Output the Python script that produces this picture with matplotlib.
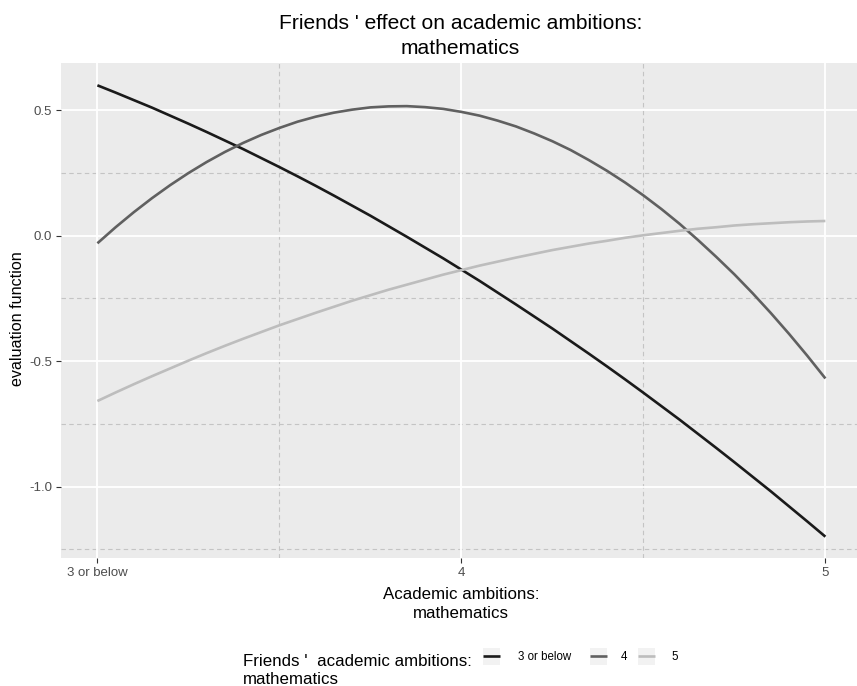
import matplotlib
matplotlib.use("Agg")
import matplotlib.pyplot as plt
from matplotlib.lines import Line2D
from matplotlib.patches import Rectangle

plt.rcParams['font.family'] = ['Liberation Sans', 'DejaVu Sans']

# ego's ambition level (x) and the evaluation function per friends' level
x_vals = [3.00, 3.05, 3.10, 3.15, 3.20, 3.25, 3.30, 3.35, 3.40, 3.45, 3.50,
          3.55, 3.60, 3.65, 3.70, 3.75, 3.80, 3.85, 3.90, 3.95, 4.00,
          4.05, 4.10, 4.15, 4.20, 4.25, 4.30, 4.35, 4.40, 4.45, 4.50,
          4.55, 4.60, 4.65, 4.70, 4.75, 4.80, 4.85, 4.90, 4.95, 5.00]
eval_3_or_below = [0.600, 0.571, 0.541, 0.511, 0.479, 0.447, 0.414, 0.380, 0.346, 0.310, 0.274,
                   0.237, 0.199, 0.160, 0.120, 0.080, 0.038, -0.004, -0.047, -0.090, -0.135,
                   -0.180, -0.227, -0.274, -0.322, -0.370, -0.420, -0.470, -0.521, -0.573, -0.626,
                   -0.680, -0.734, -0.790, -0.846, -0.903, -0.961, -1.019, -1.079, -1.139, -1.200]
eval_4 = [-0.030, 0.034, 0.094, 0.150, 0.202, 0.250, 0.294, 0.334, 0.370, 0.402, 0.430,
          0.455, 0.475, 0.491, 0.503, 0.512, 0.516, 0.517, 0.513, 0.506, 0.494,
          0.479, 0.459, 0.436, 0.408, 0.377, 0.342, 0.302, 0.259, 0.212, 0.161,
          0.106, 0.047, -0.017, -0.084, -0.154, -0.229, -0.308, -0.391, -0.478, -0.569]
eval_5 = [-0.659, -0.625, -0.592, -0.560, -0.529, -0.498, -0.468, -0.439, -0.411, -0.384, -0.357,
          -0.332, -0.307, -0.283, -0.259, -0.237, -0.215, -0.195, -0.175, -0.155, -0.137,
          -0.119, -0.103, -0.087, -0.072, -0.057, -0.044, -0.031, -0.020, -0.008, 0.002,
          0.011, 0.020, 0.028, 0.034, 0.041, 0.046, 0.050, 0.054, 0.057, 0.059]

series_labels = ['3 or below', '4', '5']
series_values = [eval_3_or_below, eval_4, eval_5]
series_colors = ['#1a1a1a', '#606060', '#bdbdbd']

x_ticks = [3, 4, 5]
x_tick_labels = ['3 or below', '4', '5']
y_ticks = [-1.0, -0.5, 0.0, 0.5]
y_tick_labels = ['-1.0', '-0.5', '0.0', '0.5']
x_minor = [3.5, 4.5]
y_minor = [-1.25, -0.75, -0.25, 0.25]

W, H = 857, 686
fig = plt.figure(figsize=(W / 100, H / 100), dpi=100)
fig.patch.set_facecolor('white')


def fx(px):
    return px / W


def fy(py):
    return 1 - py / H


left_px, right_px, top_px, bottom_px = 61, 857, 63, 558
ax = fig.add_axes([fx(left_px), fy(bottom_px),
                   (right_px - left_px) / W, (bottom_px - top_px) / H])
ax.set_facecolor('#ebebeb')
for s in ax.spines.values():
    s.set_visible(False)

for xm in x_minor:
    ax.axvline(xm, color='#c4c4c4', lw=0.8, dashes=(4, 3), zorder=1)
for ym in y_minor:
    ax.axhline(ym, color='#c4c4c4', lw=0.8, dashes=(4, 3), zorder=1)
for xt in x_ticks:
    ax.axvline(xt, color='white', lw=1.3, zorder=1.5)
for yt in y_ticks:
    ax.axhline(yt, color='white', lw=1.3, zorder=1.5)

for lab, vals, col in zip(series_labels, series_values, series_colors):
    ax.plot(x_vals, vals, color=col, lw=1.9, solid_capstyle='butt',
            solid_joinstyle='round', zorder=3, label=lab)

ax.set_xlim(2.9, 2.9 + (right_px - left_px) / 364.0)
ax.set_ylim(-1.285, 0.689)
ax.set_xticks(x_ticks)
ax.set_xticklabels(x_tick_labels)
ax.set_yticks(y_ticks)
ax.set_yticklabels(y_tick_labels)
ax.tick_params(axis='both', which='major', length=3.5, width=0.8, color='#333333',
               labelcolor='#4d4d4d', labelsize=9.5, pad=3)

# axis titles
fig.text(fx(461), fy(599.3), 'Academic ambitions:', ha='center', va='baseline', fontsize=12.2)
fig.text(fx(461), fy(617.7), 'mathematics', ha='center', va='baseline', fontsize=12.2)
fig.text(fx(18), fy(319), 'evaluation function', ha='center', va='center',
         rotation=90, fontsize=11.6)

# plot title
fig.text(fx(460.5), fy(29.3), "Friends ' effect on academic ambitions:",
         ha='center', va='baseline', fontsize=15.1)
fig.text(fx(460.5), fy(54), 'mathematics', ha='center', va='baseline', fontsize=15.1)

# legend at the bottom
fig.text(fx(243), fy(666), "Friends '  academic ambitions:", ha='left', va='baseline', fontsize=12.2)
fig.text(fx(243), fy(684), 'mathematics', ha='left', va='baseline', fontsize=12.2)
key_left = [483, 590, 638]
label_left = [517.5, 621, 671]
key_mid_y = 656
for kx, lx, lab, col in zip(key_left, label_left, series_labels, series_colors):
    fig.add_artist(Rectangle((fx(kx), fy(key_mid_y + 8.5)), 17 / W, 17 / H,
                             transform=fig.transFigure, facecolor='#f2f2f2', edgecolor='none'))
    fig.add_artist(Line2D([fx(kx), fx(kx + 17)], [fy(key_mid_y), fy(key_mid_y)],
                          transform=fig.transFigure, color=col, lw=1.9, solid_capstyle='butt'))
    fig.text(fx(lx), fy(key_mid_y + 4.3), lab, ha='left', va='baseline', fontsize=8.3)

fig.savefig('out.png', dpi=100, facecolor='white')
